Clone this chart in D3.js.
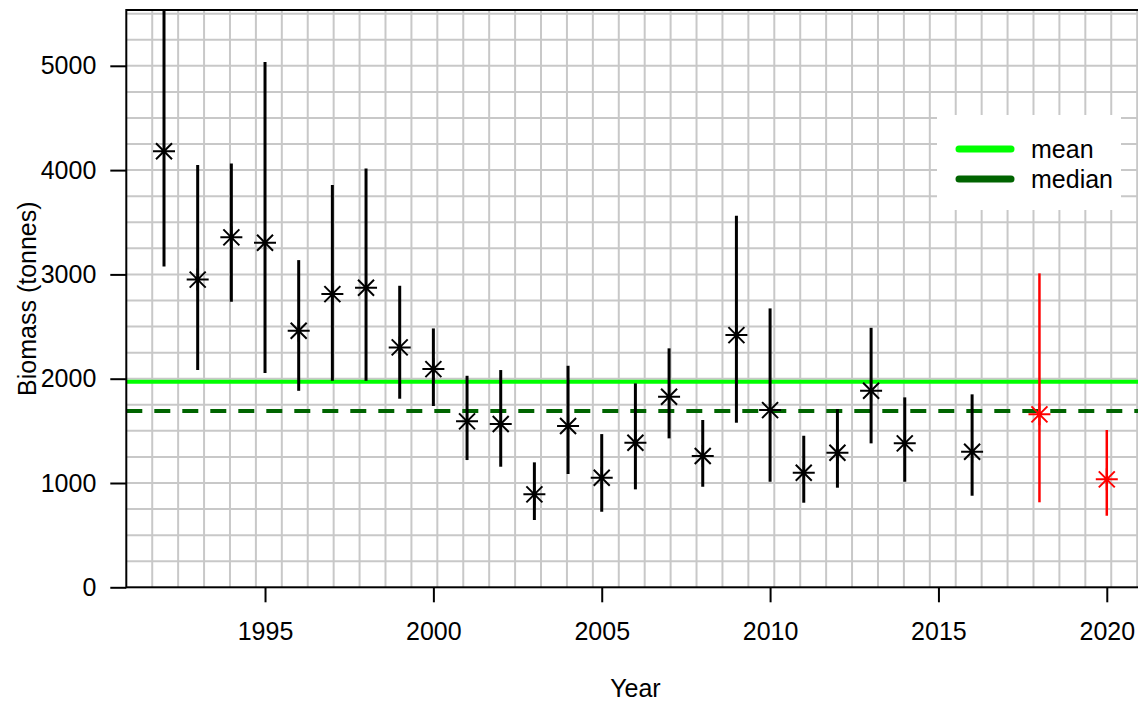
<!DOCTYPE html>
<html>
<head>
<meta charset="utf-8">
<script src="https://cdn.jsdelivr.net/npm/d3@7"></script>
<style>
  body { margin: 0; background: #fff; }
  text { font-family: "Liberation Sans", Arial, sans-serif; }
</style>
</head>
<body>
<div id="chart"></div>
<script>
// survey biomass estimates with confidence bars
var years = [1992, 1993, 1994, 1995, 1996, 1997, 1998, 1999, 2000, 2001, 2002, 2003, 2004, 2005,
             2006, 2007, 2008, 2009, 2010, 2011, 2012, 2013, 2014, 2016, 2018, 2020];
var biomass = [4180, 2950, 3355, 3303, 2460, 2811, 2872, 2300, 2092, 1591, 1565, 891, 1546, 1051,
               1386, 1827, 1259, 2418, 1699, 1098, 1290, 1884, 1380, 1300, 1658, 1035];
var lower = [3075, 2083, 2738, 2054, 1884, 1980, 1980, 1808, 1738, 1220, 1156, 645, 1086, 725,
             939, 1428, 964, 1578, 1012, 811, 955, 1380, 1012, 878, 815, 686];
var upper = [5800, 4050, 4064, 5037, 3137, 3856, 4016, 2891, 2482, 2028, 2083, 1198, 2124, 1469,
             1955, 2291, 1604, 3562, 2674, 1453, 1709, 2488, 1821, 1850, 3010, 1508];
// last two years are highlighted
var highlight = [2018, 2020];

var meanValue = 1971;
var medianValue = 1690;

var yTicks = [0, 1000, 2000, 3000, 4000, 5000];
var xTicks = [1995, 2000, 2005, 2010, 2015, 2020];

var legendItems = [
  {label: 'mean', color: '#00ff00'},
  {label: 'median', color: '#006400'}
];

var width = 1138, height = 704;
var margin = {top: 10, left: 126.3, bottom: 116.7};
var plotRight = 1144.5;
var fontSize = '25px';

var svg = d3.select('#chart').append('svg')
  .attr('width', width)
  .attr('height', height);

var x = d3.scaleLinear().domain([1990.88, 2021.12]).range([margin.left, plotRight]);
var y = d3.scaleLinear().domain([0, 5535]).range([height - margin.bottom, margin.top]);

svg.append('defs').append('clipPath')
  .attr('id', 'plotclip')
  .append('rect')
  .attr('x', margin.left)
  .attr('y', margin.top)
  .attr('width', plotRight - margin.left)
  .attr('height', y(0) - margin.top);

var plot = svg.append('g').attr('clip-path', 'url(#plotclip)');

// grid: horizontal every 250 t, vertical in equal cells
var hGrid = d3.range(250, 5535, 250);
var xStep = 0.7698;
var vGrid = d3.range(1990.88 + xStep, 2021.12, xStep);

plot.selectAll('.hgrid').data(hGrid).enter().append('line')
  .attr('x1', margin.left).attr('x2', plotRight)
  .attr('y1', function(d){ return y(d); })
  .attr('y2', function(d){ return y(d); })
  .attr('stroke', '#c8c8c8').attr('stroke-width', 2);

plot.selectAll('.vgrid').data(vGrid).enter().append('line')
  .attr('x1', function(d){ return x(d); })
  .attr('x2', function(d){ return x(d); })
  .attr('y1', margin.top).attr('y2', y(0))
  .attr('stroke', '#c8c8c8').attr('stroke-width', 2);

// mean and median lines
plot.append('line')
  .attr('x1', margin.left).attr('x2', plotRight)
  .attr('y1', y(meanValue)).attr('y2', y(meanValue))
  .attr('stroke', legendItems[0].color).attr('stroke-width', 4);

plot.append('line')
  .attr('x1', margin.left).attr('x2', plotRight)
  .attr('y1', y(medianValue)).attr('y2', y(medianValue))
  .attr('stroke', legendItems[1].color).attr('stroke-width', 4)
  .attr('stroke-dasharray', '16,12');

var points = years.map(function(yr, i){
  return {year: yr, value: biomass[i], lo: lower[i], hi: upper[i],
          color: highlight.indexOf(yr) >= 0 ? '#ff0000' : '#000000'};
});

// error bars
plot.selectAll('.bar').data(points).enter().append('line')
  .attr('x1', function(d){ return x(d.year); })
  .attr('x2', function(d){ return x(d.year); })
  .attr('y1', function(d){ return y(d.lo); })
  .attr('y2', function(d){ return y(d.hi); })
  .attr('stroke', function(d){ return d.color; })
  .attr('stroke-width', function(d){ return d.color == '#000000' ? 3 : 2.5; });

// asterisk markers (plus + cross)
var r = 11, rd = 8;
var star = 'M' + (-r) + ',0L' + r + ',0M0,' + (-r) + 'L0,' + r +
  'M' + (-rd) + ',' + (-rd) + 'L' + rd + ',' + rd + 'M' + (-rd) + ',' + rd + 'L' + rd + ',' + (-rd);

plot.selectAll('.pt').data(points).enter().append('path')
  .attr('transform', function(d){ return 'translate(' + x(d.year) + ',' + y(d.value) + ')'; })
  .attr('d', star)
  .attr('fill', 'none')
  .attr('stroke', function(d){ return d.color; })
  .attr('stroke-width', 2);

// box
svg.append('rect')
  .attr('x', margin.left).attr('y', margin.top)
  .attr('width', plotRight - margin.left)
  .attr('height', y(0) - margin.top)
  .attr('fill', 'none').attr('stroke', '#000').attr('stroke-width', 2);

// axes
var yAxis = d3.axisLeft(y).tickValues(yTicks).tickSize(16).tickPadding(14).tickFormat(d3.format('d'));
var xAxis = d3.axisBottom(x).tickValues(xTicks).tickSize(15).tickPadding(20).tickFormat(d3.format('d'));

var gy = svg.append('g').attr('transform', 'translate(' + margin.left + ',0)').call(yAxis);
var gx = svg.append('g').attr('transform', 'translate(0,' + y(0) + ')').call(xAxis);

[gy, gx].forEach(function(g){
  g.select('.domain').remove();
  g.selectAll('.tick line').attr('stroke', '#000').attr('stroke-width', 2);
  g.selectAll('.tick text').attr('fill', '#000').style('font-size', fontSize)
    .style('font-family', '"Liberation Sans", Arial, sans-serif');
});

// axis titles
svg.append('text')
  .attr('x', (margin.left + plotRight) / 2)
  .attr('y', 697)
  .attr('text-anchor', 'middle')
  .style('font-size', fontSize)
  .attr('fill', '#000')
  .text('Year');

svg.append('text')
  .attr('transform', 'translate(36,' + ((margin.top + y(0)) / 2) + ') rotate(-90)')
  .attr('text-anchor', 'middle')
  .style('font-size', fontSize)
  .attr('fill', '#000')
  .text('Biomass (tonnes)');

// legend
var legend = svg.append('g');
legend.append('rect')
  .attr('x', 937).attr('y', 115)
  .attr('width', 184).attr('height', 95)
  .attr('fill', '#fff');

var entries = legend.selectAll('.entry').data(legendItems).enter().append('g')
  .attr('transform', function(d, i){ return 'translate(0,' + (149 + i * 30) + ')'; });

entries.append('line')
  .attr('x1', 959).attr('x2', 1011)
  .attr('stroke', function(d){ return d.color; })
  .attr('stroke-width', 7)
  .attr('stroke-linecap', 'round');

entries.append('text')
  .attr('x', 1031)
  .attr('y', 9)
  .style('font-size', fontSize)
  .attr('fill', '#000')
  .text(function(d){ return d.label; });
</script>
</body>
</html>
